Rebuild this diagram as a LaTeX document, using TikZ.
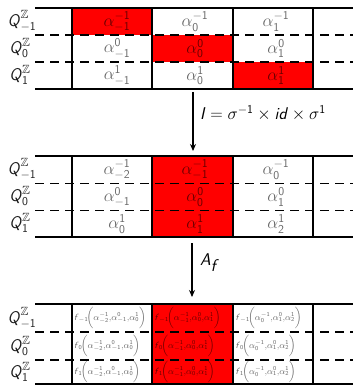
\documentclass[tikz,border=0pt]{standalone}
\usepackage{amssymb}
\usetikzlibrary{arrows.meta}
\definecolor{labdark}{RGB}{30,30,30}
\newcommand{\sn}[1]{\mathsf{#1}}
\newcommand{\sQ}{\textsf{\textit{Q}}}
\newcommand{\sit}[1]{\textsf{\textit{#1}}}
\newcommand{\al}[2]{\alpha^{\sn{#1}}_{\sn{#2}}}
\newcommand{\fq}[4]{\sit{f}_{\sn{#1}}\!\Bigl(\al{-1}{#2}{,}\al{0}{#3}{,}\al{1}{#4}\Bigr)}
\newcommand{\qlab}[1]{$\sQ^{\mathbb{Z}}_{\sn{#1}}$}
\begin{document}
\begin{tikzpicture}[x=1pt,y=-1pt,
  solidline/.style={line width=1.8pt},
  dashline/.style={line width=1.8pt,dash pattern=on 9pt off 6pt},
  redcell/.style={fill=red},
  qlabel/.style={text=labdark,inner sep=0pt,font=\fontsize{17}{19}\selectfont},
  acell/.style={text=black,text opacity=0.6,inner sep=0pt,font=\fontsize{17}{19}\selectfont},
  fcell/.style={text=black,text opacity=0.6,inner sep=0pt,anchor=west,font=\fontsize{9}{11}\selectfont},
  maparrow/.style={line width=1.1pt,-{Stealth[length=7pt,width=6pt]}},
  maplabel/.style={anchor=west,inner sep=0pt,font=\fontsize{17}{19}\selectfont}]
\useasboundingbox (0,0) rectangle (358,385);
% ---------- block 1 ----------
\fill[redcell] (72,8) rectangle (152,35);
\fill[redcell] (152,35) rectangle (233,62);
\fill[redcell] (233,62) rectangle (313,89);
\draw[solidline] (35,8) -- (353,8);
\draw[dashline] (35,35) -- (353,35);
\draw[dashline] (35,62) -- (353,62);
\draw[solidline] (35,89) -- (353,89);
\foreach \x in {72,152,233,313} \draw[solidline] (\x,8) -- (\x,89);
\node[qlabel] (q1a) at (22,21) {\qlab{-1}};
\node[qlabel] (q1b) at (20,48) {\qlab{0}};
\node[qlabel] (q1c) at (20,75) {\qlab{1}};
\node[acell] (b1a1) at (117,21.5) {$\al{-1}{-1}$};
\node[acell] (b1a2) at (195,21.5) {$\al{-1}{0}$};
\node[acell] (b1a3) at (276,21.5) {$\al{-1}{1}$};
\node[acell] (b1b1) at (117,48.5) {$\al{0}{-1}$};
\node[acell] (b1b2) at (195,48.5) {$\al{0}{0}$};
\node[acell] (b1b3) at (276,48.5) {$\al{0}{1}$};
\node[acell] (b1c1) at (117,75.5) {$\al{1}{-1}$};
\node[acell] (b1c2) at (195,75.5) {$\al{1}{0}$};
\node[acell] (b1c3) at (276,75.5) {$\al{1}{1}$};
% ---------- arrow 1 ----------
\coordinate (a1s) at (193,92);
\coordinate (a1e) at (193,151);
\draw[maparrow] (a1s) -- (a1e);
\node[maplabel] (l1) at (200,113) {$\sit{I}=\sigma^{\sn{-1}}\times\sit{id}\times\sigma^{\sn{1}}$};
% ---------- block 2 ----------
\fill[redcell] (152,156) rectangle (233,237);
\draw[solidline] (35,156) -- (353,156);
\draw[dashline] (35,183.5) -- (353,183.5);
\draw[dashline] (35,210.5) -- (353,210.5);
\draw[solidline] (35,237) -- (353,237);
\foreach \x in {72,152,233,313} \draw[solidline] (\x,156) -- (\x,237);
\node[qlabel] (q2a) at (22,169) {\qlab{-1}};
\node[qlabel] (q2b) at (20,196) {\qlab{0}};
\node[qlabel] (q2c) at (20,223) {\qlab{1}};
\node[acell] (b2a1) at (117,169.5) {$\al{-1}{-2}$};
\node[acell] (b2a2) at (195,169.5) {$\al{-1}{-1}$};
\node[acell] (b2a3) at (276,169.5) {$\al{-1}{0}$};
\node[acell] (b2b1) at (117,197) {$\al{0}{-1}$};
\node[acell] (b2b2) at (195,197) {$\al{0}{0}$};
\node[acell] (b2b3) at (276,197) {$\al{0}{1}$};
\node[acell] (b2c1) at (117,224) {$\al{1}{0}$};
\node[acell] (b2c2) at (195,224) {$\al{1}{1}$};
\node[acell] (b2c3) at (276,224) {$\al{1}{2}$};
% ---------- arrow 2 ----------
\coordinate (a2s) at (192,243);
\coordinate (a2e) at (192,297);
\draw[maparrow] (a2s) -- (a2e);
\node[maplabel] (l2) at (200,263) {$\sit{A}_{\sit{f}}$};
% ---------- block 3 ----------
\fill[redcell] (152,304) rectangle (233,384);
\draw[solidline] (35,304) -- (353,304);
\draw[dashline] (35,332) -- (353,332);
\draw[dashline] (35,360) -- (353,360);
\draw[solidline] (35,384) -- (353,384);
\foreach \x in {72,152,233,313} \draw[solidline] (\x,304) -- (\x,384);
\node[qlabel] (q3a) at (22,318) {\qlab{-1}};
\node[qlabel] (q3b) at (20,346) {\qlab{0}};
\node[qlabel] (q3c) at (20,372) {\qlab{1}};
\node[fcell] (b3a1) at (74,318) {$\fq{-1}{-2}{-1}{0}$};
\node[fcell] (b3a2) at (154.5,318) {$\fq{-1}{-1}{0}{1}$};
\node[fcell] (b3a3) at (235.5,318) {$\fq{-1}{0}{1}{2}$};
\node[fcell] (b3b1) at (74,346) {$\fq{0}{-2}{-1}{0}$};
\node[fcell] (b3b2) at (154.5,346) {$\fq{0}{-1}{0}{1}$};
\node[fcell] (b3b3) at (235.5,346) {$\fq{0}{0}{1}{2}$};
\node[fcell] (b3c1) at (74,372) {$\fq{1}{-2}{-1}{0}$};
\node[fcell] (b3c2) at (154.5,372) {$\fq{1}{-1}{0}{1}$};
\node[fcell] (b3c3) at (235.5,372) {$\fq{1}{0}{1}{2}$};
\end{tikzpicture}
\end{document}
